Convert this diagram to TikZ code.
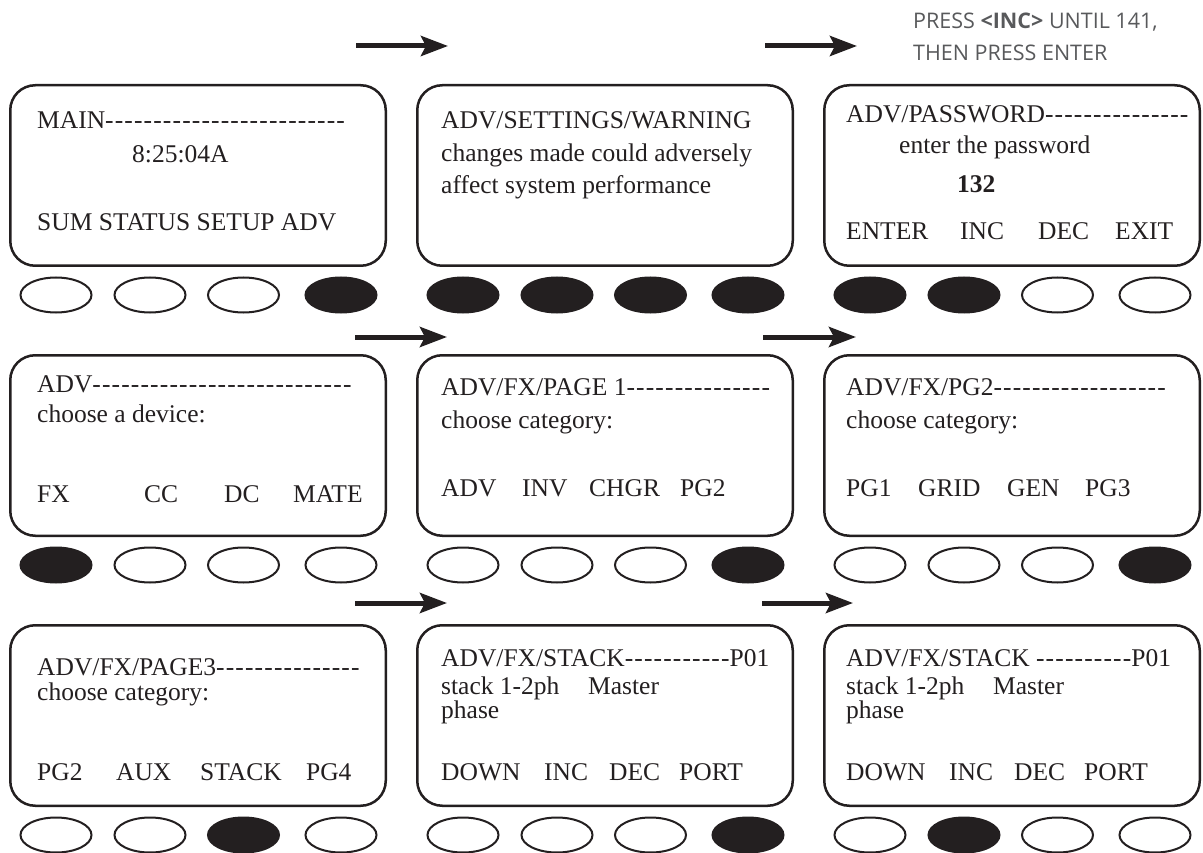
\documentclass[tikz,border=0pt]{standalone}
\usepackage{fontspec}
\usepackage{xcolor}
\usetikzlibrary{arrows.meta,positioning,shapes.geometric,calc}
\newfontfamily\lcdfont{Liberation Serif}[Ligatures=TeXOff]
\newfontfamily\notefont{Open Sans}
\definecolor{ink}{HTML}{231F20}
\definecolor{notegray}{HTML}{58595B}
\newcommand{\softkey}[2]{\makebox[#1pt][l]{#2}}
\newcommand{\dashrun}[1]{{\addfontfeature{LetterSpace=4.5}#1}}

\begin{document}
\begin{tikzpicture}[
x=1pt, y=-1pt,
screen/.style={
rectangle,
rounded corners=25pt,
draw=ink,
line width=2.5pt,
minimum width=375.5pt,
minimum height=180.5pt
},
line/.style={
anchor=base west,
inner sep=0pt,
text=ink,
font=\lcdfont\fontsize{25.5}{30}\selectfont
},
btn/.style={
ellipse,
draw=ink,
fill=#1,
line width=2pt,
minimum width=71pt,
minimum height=35pt,
inner sep=0pt
},
note/.style={
align=left,
inner sep=0pt,
text=notegray,
font=\notefont\fontsize{21.5}{32}\selectfont
},
flow/.style={-{Stealth[length=27pt,width=20pt,inset=5pt]}, line width=5pt, draw=ink}
]
\useasboundingbox (0,0) rectangle (1203,853);

% screens
\node[screen] (main) at (198,175.5) {};
\node[screen, right=29pt of main] (warn) {};
\node[screen, right=29pt of warn] (pass) {};

\node[screen, below=87pt of main] (adv) {};
\node[screen, right=29pt of adv] (fxpg1) {};
\node[screen, right=29pt of fxpg1] (fxpg2) {};

\node[screen, below=87pt of adv] (fxpg3) {};
\node[screen, right=29pt of fxpg3] (stack) {};
\node[screen, right=29pt of stack] (stackinc) {};

% screen texts
\node[line] (main-t1) at ($(main.north west)+(28,45)$) {MAIN\dashrun{-------------------------}};
\node[line] (main-t2) at ($(main.north west)+(123,79)$) {8:25:04A};
\node[line] (main-t3) at ($(main.north west)+(28,147)$) {SUM STATUS SETUP ADV};

\node[line] (warn-t1) at ($(warn.north west)+(25,45)$) {ADV/SETTINGS/WARNING};
\node[line] (warn-t2) at ($(warn.north west)+(25,78)$) {changes made could adversely};
\node[line] (warn-t3) at ($(warn.north west)+(25,110)$) {affect system performance};

\node[line] (pass-t1) at ($(pass.north west)+(23,39)$) {ADV/PASSWORD\dashrun{---------------}};
\node[line] (pass-t2) at ($(pass.north west)+(76,70)$) {enter the password};
\node[line] (pass-t3) at ($(pass.north west)+(134,109)$) {\textbf{132}};
\node[line] (pass-t4) at ($(pass.north west)+(23,156)$) {\softkey{114}{ENTER}\softkey{78}{INC}\softkey{77}{DEC}EXIT};

\node[line] (adv-t1) at ($(adv.north west)+(28,38)$) {ADV\dashrun{---------------------------}};
\node[line] (adv-t2) at ($(adv.north west)+(28,68)$) {choose a device:};
\node[line] (adv-t3) at ($(adv.north west)+(28,148)$) {\softkey{107}{FX}\softkey{80}{CC}\softkey{69}{DC}MATE};

\node[line] (fxpg1-t1) at ($(fxpg1.north west)+(25,41)$) {ADV/FX/PAGE 1\dashrun{---------------}};
\node[line] (fxpg1-t2) at ($(fxpg1.north west)+(25,74)$) {choose category:};
\node[line] (fxpg1-t3) at ($(fxpg1.north west)+(25,142)$) {\softkey{81}{ADV}\softkey{67}{INV}\softkey{91}{CHGR}PG2};

\node[line] (fxpg2-t1) at ($(fxpg2.north west)+(23,41)$) {ADV/FX/PG2\dashrun{------------------}};
\node[line] (fxpg2-t2) at ($(fxpg2.north west)+(23,74)$) {choose category:};
\node[line] (fxpg2-t3) at ($(fxpg2.north west)+(23,142)$) {\softkey{72}{PG1}\softkey{89}{GRID}\softkey{78}{GEN}PG3};

\node[line] (fxpg3-t1) at ($(fxpg3.north west)+(28,51)$) {ADV/FX/PAGE3\dashrun{---------------}};
\node[line] (fxpg3-t2) at ($(fxpg3.north west)+(28,76)$) {choose category:};
\node[line] (fxpg3-t3) at ($(fxpg3.north west)+(28,156)$) {\softkey{79}{PG2}\softkey{84}{AUX}\softkey{106}{STACK}PG4};

\node[line] (stack-t1) at ($(stack.north west)+(25,42)$) {ADV/FX/STACK\dashrun{-----------}P01};
\node[line] (stack-t2) at ($(stack.north west)+(25,70)$) {\softkey{147}{stack 1-2ph}Master};
\node[line] (stack-t3) at ($(stack.north west)+(25,94)$) {phase};
\node[line] (stack-t4) at ($(stack.north west)+(25,156)$) {\softkey{103}{DOWN}\softkey{65}{INC}\softkey{70}{DEC}PORT};

\node[line] (stackinc-t1) at ($(stackinc.north west)+(23,42)$) {ADV/FX/STACK \dashrun{----------}P01};
\node[line] (stackinc-t2) at ($(stackinc.north west)+(23,70)$) {\softkey{147}{stack 1-2ph}Master};
\node[line] (stackinc-t3) at ($(stackinc.north west)+(23,94)$) {phase};
\node[line] (stackinc-t4) at ($(stackinc.north west)+(23,156)$) {\softkey{103}{DOWN}\softkey{65}{INC}\softkey{70}{DEC}PORT};

% soft keys under each screen (ink = pressed)
\foreach \scr/\ka/\kb/\kc/\kd in {main/white/white/white/ink, warn/ink/ink/ink/ink, pass/ink/ink/white/white,
  adv/ink/white/white/white, fxpg1/white/white/white/ink, fxpg2/white/white/white/ink,
  fxpg3/white/white/ink/white, stack/white/white/white/ink, stackinc/white/ink/white/white}{
  \node[btn=\ka] (\scr-b1) at ($(\scr.south west)+(47,28)$) {};
  \node[btn=\kb] (\scr-b2) at ($(\scr.south west)+(141,28)$) {};
  \node[btn=\kc] (\scr-b3) at ($(\scr.south west)+(234.5,28)$) {};
  \node[btn=\kd] (\scr-b4) at ($(\scr.south west)+(332,28)$) {};
}

% hint
\node[note, anchor=north west] (hint) at (913,12.5) {PRESS \textbf{<INC>} UNTIL 141,\\THEN PRESS ENTER};

% arrows
\coordinate (r1a) at (356,46);  \coordinate (r1b) at (448,46);
\coordinate (r1c) at (765,46);  \coordinate (r1d) at (857,46);
\coordinate (r2a) at (355,337); \coordinate (r2b) at (447,337);
\coordinate (r2c) at (763,337); \coordinate (r2d) at (856,337);
\coordinate (r3a) at (355,603); \coordinate (r3b) at (447,603);
\coordinate (r3c) at (762,603); \coordinate (r3d) at (853,603);

\draw[flow] (r1a) -- (r1b);
\draw[flow] (r1c) -- (r1d);
\draw[flow] (r2a) -- (r2b);
\draw[flow] (r2c) -- (r2d);
\draw[flow] (r3a) -- (r3b);
\draw[flow] (r3c) -- (r3d);

\end{tikzpicture}
\end{document}
